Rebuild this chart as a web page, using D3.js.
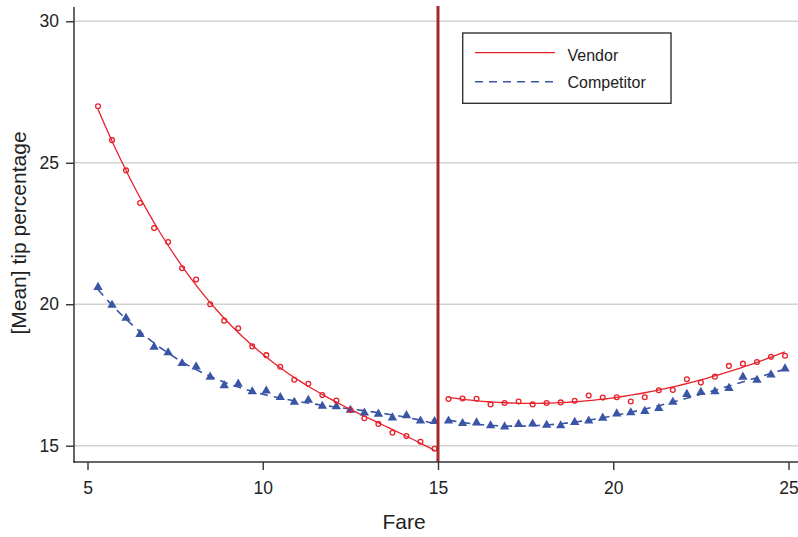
<!DOCTYPE html>
<html>
<head>
<meta charset="utf-8">
<script src="https://cdn.jsdelivr.net/npm/d3@7"></script>
<style>
  html, body { margin: 0; padding: 0; background: #fff; }
  svg { display: block; font-family: "Liberation Sans", Arial, Helvetica, sans-serif; }
</style>
</head>
<body>
<svg id="chart" width="798" height="537"></svg>
<script>
// ---- Data ----
const xLeft = [5.3,5.7,6.1,6.5,6.9,7.3,7.7,8.1,8.5,8.9,9.3,9.7,10.1,10.5,10.9,11.3,11.7,12.1,12.5,12.9,13.3,13.7,14.1,14.5,14.9];
const xRight = [15.3,15.7,16.1,16.5,16.9,17.3,17.7,18.1,18.5,18.9,19.3,19.7,20.1,20.5,20.9,21.3,21.7,22.1,22.5,22.9,23.3,23.7,24.1,24.5,24.9];

const vendorLeft = [27.0,25.8,24.73,23.58,22.69,22.2,21.27,20.87,20.0,19.42,19.15,18.51,18.2,17.79,17.33,17.19,16.79,16.6,16.26,15.97,15.77,15.46,15.34,15.14,14.89];
const vendorRight = [16.65,16.67,16.66,16.46,16.51,16.56,16.46,16.51,16.53,16.59,16.77,16.70,16.71,16.56,16.71,16.96,16.97,17.35,17.23,17.44,17.82,17.90,17.96,18.14,18.18];

const competitorLeft = [20.6,19.97,19.51,18.94,18.49,18.29,17.91,17.79,17.43,17.13,17.18,16.91,16.94,16.71,16.54,16.61,16.40,16.38,16.26,16.16,16.12,15.99,16.07,15.88,15.86];
const competitorRight = [15.88,15.79,15.81,15.71,15.67,15.76,15.77,15.73,15.71,15.83,15.88,15.98,16.13,16.17,16.22,16.32,16.54,16.82,16.89,16.91,17.03,17.43,17.32,17.51,17.72];

const xTicks = [5,10,15,20,25];
const yTicks = [15,20,25,30];
const cutoff = 15;
const fitDegree = 3;
const seriesNames = ["Vendor","Competitor"];

// ---- Layout ----
const svg = d3.select("#chart");
const plot = {left: 74, right: 798, top: 7, bottom: 462};
const x = d3.scaleLinear().domain([5,25]).range([87.5,788.5]);
const y = d3.scaleLinear().domain([15,30]).range([445.7,21.3]);

const red = "#e8212b", blue = "#3a55a5", cutColor = "#a3292d";

// gridlines
svg.append("g").selectAll("line").data(yTicks).join("line")
  .attr("x1", plot.left).attr("x2", plot.right)
  .attr("y1", d => y(d)).attr("y2", d => y(d))
  .attr("stroke", "#d2d2d2").attr("stroke-width", 1.5);

// polynomial least-squares fit computed from the data
function polyFit(xs, ys, deg) {
  const m = deg + 1;
  const x0 = d3.mean(xs);
  const A = Array.from({length: m}, () => new Array(m + 1).fill(0));
  xs.forEach((xv, i) => {
    const u = xv - x0;
    for (let r = 0; r < m; r++) {
      for (let c = 0; c < m; c++) A[r][c] += Math.pow(u, r + c);
      A[r][m] += ys[i] * Math.pow(u, r);
    }
  });
  for (let c = 0; c < m; c++) {
    for (let r = c + 1; r < m; r++) {
      const f = A[r][c] / A[c][c];
      for (let k = c; k <= m; k++) A[r][k] -= f * A[c][k];
    }
  }
  const b = new Array(m).fill(0);
  for (let r = m - 1; r >= 0; r--) {
    let v = A[r][m];
    for (let k = r + 1; k < m; k++) v -= A[r][k] * b[k];
    b[r] = v / A[r][r];
  }
  const lo = d3.min(xs), hi = d3.max(xs);
  return d3.range(0, 61).map(i => {
    const xv = lo + (hi - lo) * i / 60, u = xv - x0;
    return [xv, b.reduce((s, bk, k) => s + bk * Math.pow(u, k), 0)];
  });
}

const line = d3.line().x(d => x(d[0])).y(d => y(d[1]));

// fitted lines
[[xLeft, competitorLeft],[xRight, competitorRight]].forEach(([xs, ys]) => {
  svg.append("path").attr("d", line(polyFit(xs, ys, fitDegree)))
    .attr("fill", "none").attr("stroke", blue).attr("stroke-width", 1.6)
    .attr("stroke-dasharray", "8,6");
});
[[xLeft, vendorLeft],[xRight, vendorRight]].forEach(([xs, ys]) => {
  svg.append("path").attr("d", line(polyFit(xs, ys, fitDegree)))
    .attr("fill", "none").attr("stroke", red).attr("stroke-width", 1.3);
});

// competitor triangles
const tri = d3.symbol().type(d3.symbolTriangle).size(38);
[[xLeft, competitorLeft],[xRight, competitorRight]].forEach(([xs, ys]) => {
  svg.append("g").selectAll("path").data(xs.map((xv,i)=>[xv, ys[i]])).join("path")
    .attr("d", tri)
    .attr("transform", d => `translate(${x(d[0])},${y(d[1])})`)
    .attr("fill", blue);
});

// vendor circles
[[xLeft, vendorLeft],[xRight, vendorRight]].forEach(([xs, ys]) => {
  svg.append("g").selectAll("circle").data(xs.map((xv,i)=>[xv, ys[i]])).join("circle")
    .attr("cx", d => x(d[0])).attr("cy", d => y(d[1])).attr("r", 2.4)
    .attr("fill", "none").attr("stroke", red).attr("stroke-width", 1.3);
});

// cutoff line
svg.append("line")
  .attr("x1", x(cutoff)).attr("x2", x(cutoff))
  .attr("y1", 6).attr("y2", plot.bottom)
  .attr("stroke", cutColor).attr("stroke-width", 3);

// axes
const axisColor = "#333";
const yAxis = svg.append("g").attr("transform", `translate(${plot.left},0)`)
  .call(d3.axisLeft(y).tickValues(yTicks).tickSize(8).tickPadding(7).tickFormat(d3.format("d")));
const xAxis = svg.append("g").attr("transform", `translate(0,${plot.bottom})`)
  .call(d3.axisBottom(x).tickValues(xTicks).tickSize(8).tickPadding(12).tickFormat(d3.format("d")));
[yAxis, xAxis].forEach(a => {
  a.select(".domain").remove();
  a.selectAll(".tick line").attr("stroke", axisColor).attr("stroke-width", 1.4);
  a.selectAll(".tick text").attr("fill", "#222").style("font-size", "17.5px")
    .style("font-family", '"Liberation Sans", Arial, sans-serif');
});
svg.append("line").attr("x1", plot.left).attr("x2", plot.left)
  .attr("y1", plot.top).attr("y2", plot.bottom + 0.7)
  .attr("stroke", axisColor).attr("stroke-width", 1.5);
svg.append("line").attr("x1", plot.left - 0.7).attr("x2", plot.right)
  .attr("y1", plot.bottom).attr("y2", plot.bottom)
  .attr("stroke", axisColor).attr("stroke-width", 1.5);

// axis titles
svg.append("text").attr("x", 404).attr("y", 529).attr("text-anchor", "middle")
  .attr("fill", "#222").style("font-size", "21px").text("Fare");
svg.append("text").attr("transform", "translate(26,233) rotate(-90)")
  .attr("text-anchor", "middle").attr("fill", "#222").style("font-size", "21px")
  .text("[Mean] tip percentage");

// legend
const lg = svg.append("g");
lg.append("rect").attr("x", 462.7).attr("y", 33).attr("width", 208.3).attr("height", 70.3)
  .attr("fill", "#fff").attr("stroke", "#333").attr("stroke-width", 1.4);
lg.append("line").attr("x1", 475).attr("x2", 555).attr("y1", 52.7).attr("y2", 52.7)
  .attr("stroke", red).attr("stroke-width", 1.3);
lg.append("line").attr("x1", 475).attr("x2", 555).attr("y1", 81.7).attr("y2", 81.7)
  .attr("stroke", blue).attr("stroke-width", 1.6).attr("stroke-dasharray", "8,6");
lg.append("text").attr("x", 567.5).attr("y", 60.5).attr("fill", "#222")
  .style("font-size", "16px").text(seriesNames[0]);
lg.append("text").attr("x", 567.5).attr("y", 87.5).attr("fill", "#222")
  .style("font-size", "16px").text(seriesNames[1]);
</script>
</body>
</html>
